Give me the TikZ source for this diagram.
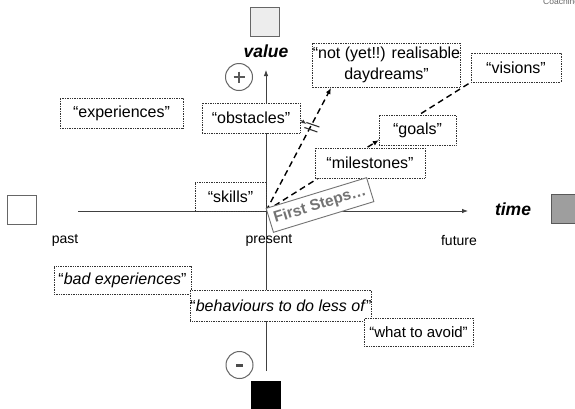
\documentclass[tikz,border=0pt]{standalone}
\usepackage{fontspec}
\setmainfont{Liberation Sans}
\usetikzlibrary{arrows.meta,calc}
\pgfdeclarelayer{bg}
\pgfdeclarelayer{paper}
\pgfsetlayers{paper,bg,main}
\begin{document}
\begin{tikzpicture}[x=1pt,y=-1pt,
  box/.style={draw=black!80, densely dotted, line width=0.7pt, fill=white, inner sep=0pt,
    font=\fontsize{16}{21}\selectfont, align=center},
  sq/.style={draw=black!60, line width=0.8pt, minimum width=29pt, minimum height=29pt, inner sep=0pt},
  axisline/.style={draw=black!75, line width=0.8pt, -{Latex[length=6pt,width=4.5pt]}},
  dline/.style={draw=black, line width=1.4pt, dash pattern=on 6pt off 4pt},
  tipped/.style={-{Latex[length=6pt,width=5pt]}},
  signc/.style={circle, draw=black!60, line width=1pt, minimum size=27pt, inner sep=0pt},
  lbl/.style={font=\fontsize{14}{16}\selectfont, inner sep=0pt},
  biglbl/.style={font=\fontsize{17.5}{20}\selectfont\bfseries\itshape, inner sep=0pt}]

\begin{pgfonlayer}{paper}
\fill[white] (0,0) rectangle (575,408);
\end{pgfonlayer}
\useasboundingbox (0,0) rectangle (575,408);

% squares
\node[sq, fill=black!7] (sqtop) at (265,21.5) {};
\node[sq, fill=white] (sqleft) at (22,209.5) {};
\node[sq, fill=black!38, draw=black!65] (sqright) at (566,209) {};
\node[sq, fill=black, draw=black] (sqbot) at (265.5,396) {};

% signs
\node[signc] (plus) at (239,77) {};
\draw[black!65, line width=2.4pt] ($(plus)+(-5.5,0)$) -- ($(plus)+(5.5,0)$);
\draw[black!65, line width=2.4pt] ($(plus)+(0,-5.5)$) -- ($(plus)+(0,5.5)$);
\node[signc] (minus) at (239.5,365) {};
\draw[black!70, line width=3pt] ($(minus)+(-3.5,0)$) -- ($(minus)+(3.5,0)$);

% labels
\node[biglbl] (value) at (266,51) {value};
\node[biglbl] (time) at (513,209) {time};
\node[lbl] (past) at (65,240) {past};
\node[lbl] (present) at (269,240) {present};
\node[lbl] (future) at (459,240) {future};
\node[anchor=base west, font=\fontsize{8.5}{10}\selectfont, text=black!60, inner sep=0pt] (coach) at (543,4.5) {Coaching};

% boxes
\node[box, minimum width=123pt, minimum height=30pt] (exper) at (121.5,113) {“experiences”};
\node[box, minimum width=98pt, minimum height=30pt] (obst) at (251,118) {“obstacles”};
\node[box, minimum width=147pt, minimum height=44pt] (dream) at (386.5,65) {“not (yet!!) realisable\\daydreams”};
\node[box, minimum width=90pt, minimum height=29pt] (vis) at (516,67.5) {“visions”};
\node[box, minimum width=77pt, minimum height=30pt] (goals) at (417.5,130) {“goals”};
\node[box, minimum width=110pt, minimum height=30pt] (miles) at (370,163) {“milestones”};
\node[box, minimum width=71pt, minimum height=29pt] (skills) at (230.5,196.5) {“skills”};
\node[box, minimum width=137pt, minimum height=28pt] (bad) at (122.5,280) {“\textit{bad experiences}”};
\node[box, minimum width=180pt, minimum height=31pt] (behav) at (281,305.5) {“\textit{behaviours to do less of}”};
\node[box, minimum width=109pt, minimum height=28pt, font=\fontsize{15}{18}\selectfont] (avoid) at (418.5,332) {“what to avoid”};

% first steps
\node[draw=black!55, line width=0.9pt, fill=white, rotate=17, minimum width=105pt,
  minimum height=25pt, inner sep=0pt, text=black!55,
  font=\fontsize{15.5}{17}\selectfont\bfseries] (fs) at (320,205) {First Steps…};

% coordinates
\coordinate (O) at (266,211);
\coordinate (vtop) at (266,70);
\coordinate (vbot) at (266,371);
\coordinate (hl) at (78,211);
\coordinate (hr) at (468,211);
\coordinate (dtip) at (331,88);
\coordinate (brk) at ($(O)!0.683!(dtip)$);
\coordinate (gtip) at ($(O)!0.551!(vis.south west)$);

\begin{pgfonlayer}{bg}
\draw[axisline] (vbot) -- (vtop);
\draw[axisline] (hl) -- (hr);
\draw[dline, tipped] (O) -- (dtip);
\draw[dline, tipped] (O) -- (gtip);
\draw[dline] (gtip) -- (vis.south west);
\end{pgfonlayer}

% break mark and obstacles pointer
\draw[black!80, line width=1.1pt] ($(brk)+(-4,-4.5)$) -- ($(brk)+(9,0)$);
\draw[black!80, line width=1.1pt] ($(brk)+(-6,0.5)$) -- ($(brk)+(7,5)$);
\draw[black!80, line width=0.8pt, -{Latex[length=5pt,width=4pt]}] ([yshift=-2pt]obst.east) -- ($(brk)+(-4,-3)$);

\end{tikzpicture}
\end{document}
